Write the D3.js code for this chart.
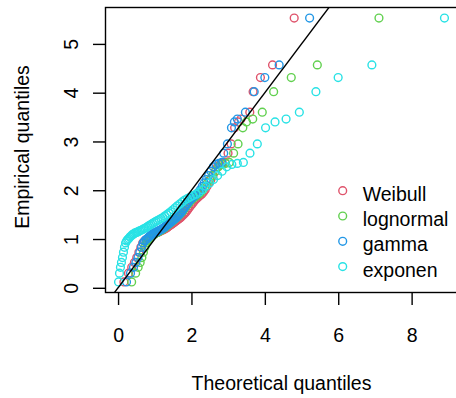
<!DOCTYPE html>
<html>
<head>
<meta charset="utf-8">
<script src="https://cdn.jsdelivr.net/npm/d3@7"></script>
<style>
body { margin: 0; background: #fff; }
text { font-family: "Liberation Sans", Arial, Helvetica, sans-serif; }
</style>
</head>
<body>
<div id="chart"></div>
<script>
// sorted sample (empirical quantiles), n = 70
const empirical = [0.12,0.30,0.42,0.52,0.62,0.73,0.83,0.92,0.96,0.99,1.01,1.04,1.06,1.09,1.10,1.12,1.13,1.14,1.15,1.17,
  1.18,1.19,1.21,1.22,1.24,1.26,1.28,1.30,1.32,1.34,1.36,1.38,1.40,1.42,1.44,1.47,1.50,1.53,1.56,1.60,
  1.64,1.68,1.72,1.76,1.80,1.83,1.86,1.89,1.92,1.96,2.01,2.08,2.15,2.22,2.30,2.39,2.48,2.53,2.55,2.57,
  2.76,2.95,3.28,3.40,3.46,3.60,4.02,4.31,4.57,5.53];

// theoretical quantiles of each fitted distribution
const weibull = [0.159,0.284,0.372,0.445,0.509,0.567,0.621,0.672,0.721,0.767,0.811,0.854,0.896,0.936,0.976,1.016,1.054,1.092,1.129,1.166,
  1.203,1.240,1.276,1.312,1.348,1.383,1.419,1.455,1.491,1.527,1.563,1.599,1.635,1.671,1.708,1.745,1.783,1.821,1.859,1.898,
  1.937,1.977,2.017,2.059,2.101,2.144,2.188,2.233,2.279,2.326,2.375,2.426,2.478,2.532,2.588,2.647,2.709,2.775,2.844,2.918,
  2.997,3.083,3.177,3.281,3.350,3.590,3.680,3.880,4.210,4.800];
const lognormal = [0.370,0.479,0.547,0.602,0.649,0.691,0.730,0.767,0.802,0.836,0.868,0.900,0.931,0.962,0.992,1.021,1.051,1.081,1.110,1.139,
  1.168,1.197,1.226,1.256,1.287,1.317,1.347,1.377,1.408,1.441,1.471,1.504,1.537,1.570,1.605,1.640,1.677,1.713,1.751,1.790,
  1.828,1.870,1.912,1.954,2.000,2.046,2.096,2.147,2.199,2.255,2.312,2.373,2.435,2.504,2.578,2.654,2.737,2.826,2.924,3.031,
  3.149,3.270,3.400,3.500,3.670,3.930,4.240,4.720,5.430,7.110];
const gamma = [0.230,0.339,0.421,0.486,0.543,0.593,0.639,0.683,0.724,0.763,0.801,0.838,0.873,0.908,0.942,0.976,1.008,1.042,1.073,1.105,
  1.137,1.169,1.201,1.232,1.264,1.296,1.328,1.359,1.392,1.424,1.456,1.489,1.522,1.556,1.590,1.625,1.660,1.696,1.732,1.769,
  1.806,1.845,1.884,1.924,1.966,2.008,2.052,2.097,2.144,2.192,2.242,2.295,2.348,2.406,2.466,2.530,2.597,2.669,2.746,2.827,
  2.880,2.980,3.090,3.170,3.250,3.470,3.710,4.000,4.390,5.220];
const exponen = [0.013,0.039,0.065,0.092,0.120,0.147,0.175,0.204,0.233,0.263,0.293,0.323,0.354,0.386,0.418,0.450,0.484,0.518,0.552,0.588,
  0.624,0.661,0.698,0.736,0.775,0.815,0.856,0.898,0.941,0.985,1.030,1.076,1.124,1.172,1.222,1.274,1.327,1.381,1.437,1.495,
  1.556,1.617,1.682,1.749,1.818,1.890,1.965,2.043,2.125,2.210,2.301,2.395,2.495,2.601,2.714,2.834,2.962,3.101,3.251,3.415,
  3.595,3.795,4.020,4.278,4.579,4.940,5.392,5.998,6.917,8.895];

const seriesNames = ["Weibull", "lognormal", "gamma", "exponen"];
const seriesColors = ["#DF536B", "#61D04F", "#2297E6", "#28E2E5"];
const xTicks = [0, 2, 4, 6, 8];
const yTicks = [0, 1, 2, 3, 4, 5];

const width = 456, height = 398;
const box = {left: 105.5, right: 457.5, top: 7.5, bottom: 292.5};
const fs = 19.5;

const theo = [weibull, lognormal, gamma, exponen];

// R style 4% range extension
function pad(e) {
  const r = e[1] - e[0];
  return [e[0] - 0.04 * r, e[1] + 0.04 * r];
}
const x = d3.scaleLinear().domain(pad(d3.extent(theo.flat()))).range([box.left, box.right]);
const y = d3.scaleLinear().domain(pad(d3.extent(empirical))).range([box.bottom, box.top]);

const svg = d3.select("#chart").append("svg")
  .attr("width", width)
  .attr("height", height);

svg.append("clipPath").attr("id", "plotclip")
  .append("rect")
  .attr("x", box.left).attr("y", box.top)
  .attr("width", box.right - box.left).attr("height", box.bottom - box.top);

// points, one series after another
const plot = svg.append("g").attr("clip-path", "url(#plotclip)");
theo.forEach((xs, k) => {
  plot.append("g")
    .selectAll("circle")
    .data(xs.map((v, i) => [v, empirical[i]]))
    .join("circle")
    .attr("cx", d => x(d[0]))
    .attr("cy", d => y(d[1]))
    .attr("r", 3.9)
    .attr("fill", "none")
    .attr("stroke", seriesColors[k])
    .attr("stroke-width", 1.4);
});

// y = x reference line
const xd = x.domain();
plot.append("line")
  .attr("x1", x(xd[0])).attr("y1", y(xd[0]))
  .attr("x2", x(xd[1])).attr("y2", y(xd[1]))
  .attr("stroke", "#000")
  .attr("stroke-width", 1.4);

// box
svg.append("rect")
  .attr("x", box.left).attr("y", box.top)
  .attr("width", box.right - box.left).attr("height", box.bottom - box.top)
  .attr("fill", "none")
  .attr("stroke", "#000")
  .attr("stroke-width", 1.4);

// axes
const xAxis = svg.append("g")
  .attr("transform", `translate(0,${box.bottom})`)
  .call(d3.axisBottom(x).tickValues(xTicks).tickSize(12.5).tickPadding(22.8).tickFormat(d3.format("d")));
xAxis.select(".domain").remove();
xAxis.selectAll("line").attr("stroke-width", 1.4);
xAxis.selectAll("text").attr("font-size", fs).attr("font-family", null).attr("fill", "#000");

const yAxis = svg.append("g")
  .attr("transform", `translate(${box.left},0)`)
  .call(d3.axisLeft(y).tickValues(yTicks).tickSize(12.5).tickFormat(d3.format("d")));
yAxis.select(".domain").remove();
yAxis.selectAll("line").attr("stroke-width", 1.4);
yAxis.selectAll("text")
  .attr("font-size", fs).attr("font-family", null).attr("fill", "#000")
  .attr("x", null).attr("dy", null)
  .attr("text-anchor", "middle")
  .attr("transform", "translate(-27.5,0) rotate(-90)");

// axis titles
svg.append("text")
  .attr("x", (box.left + box.right) / 2)
  .attr("y", 390)
  .attr("text-anchor", "middle")
  .attr("font-size", fs)
  .text("Theoretical quantiles");

svg.append("text")
  .attr("transform", `translate(29,147) rotate(-90)`)
  .attr("text-anchor", "middle")
  .attr("font-size", fs)
  .text("Empirical quantiles");

// legend
const legend = svg.append("g").attr("transform", "translate(342.7,190.7)");
const item = legend.selectAll("g")
  .data(seriesNames)
  .join("g")
  .attr("transform", (d, i) => `translate(0,${i * 25.3})`);
item.append("circle")
  .attr("r", 3.9)
  .attr("fill", "none")
  .attr("stroke", (d, i) => seriesColors[i])
  .attr("stroke-width", 1.4);
item.append("text")
  .attr("x", 20)
  .attr("y", 10)
  .attr("font-size", fs)
  .text(d => d);
</script>
</body>
</html>
